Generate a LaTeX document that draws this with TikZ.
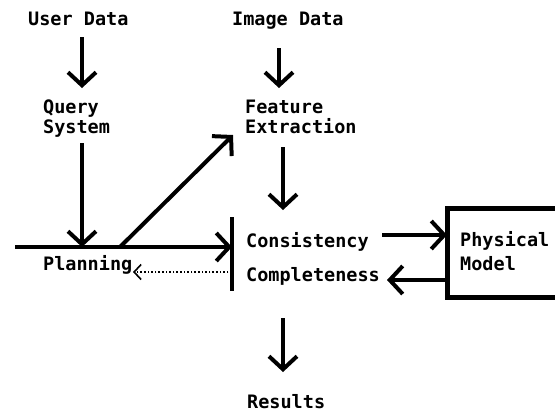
\documentclass[tikz,border=0pt]{standalone}
\usepackage{fontspec}
\setmainfont{DejaVu Sans Mono}
\usetikzlibrary{arrows.meta}
\begin{document}
\begin{tikzpicture}[x=1pt,y=-1pt,
  lbl/.style={anchor=base west,inner sep=0pt,font=\fontsize{18.5}{20}\selectfont\bfseries},
  conn/.style={line width=4pt,-{Straight Barb[length=13pt,width=28pt]}},
  plainline/.style={line width=4pt},
  dotconn/.style={line width=1.6pt,dotted,-{Straight Barb[length=7pt,width=15pt]}},
  modelbox/.style={line width=5pt}]
\useasboundingbox (0,0) rectangle (555,413);
% texts
\node[lbl] (user) at (28,25) {User Data};
\node[lbl] (image) at (232,25) {Image Data};
\node[lbl] (query) at (43,113) {Query};
\node[lbl] (system) at (43,133) {System};
\node[lbl] (feature) at (245,113) {Feature};
\node[lbl] (extraction) at (245,133) {Extraction};
\node[lbl] (consistency) at (246,247) {Consistency};
\node[lbl] (completeness) at (246,281) {Completeness};
\node[lbl] (planning) at (43,270) {Planning};
\node[lbl] (physical) at (460,246) {Physical};
\node[lbl] (model) at (460,270) {Model};
\node[lbl] (results) at (247,408) {Results};
% connector ends
\coordinate (u1) at (82,37);   \coordinate (u2) at (82,88);
\coordinate (i1) at (279,48);  \coordinate (i2) at (279,88);
\coordinate (q1) at (82,143);  \coordinate (q2) at (82,247);
\coordinate (h1) at (15,247);  \coordinate (h2) at (232,247);
\coordinate (b1) at (232,217); \coordinate (b2) at (232,291);
\coordinate (d1) at (120,247); \coordinate (d2) at (233,135);
\coordinate (f1) at (283,147); \coordinate (f2) at (283,210);
\coordinate (c1) at (382,235); \coordinate (c2) at (447,235);
\coordinate (m1) at (447,280); \coordinate (m2) at (387,280);
\coordinate (p1) at (232,272); \coordinate (p2) at (133,272);
\coordinate (r1) at (283,318); \coordinate (r2) at (283,372);
% box
\begin{scope}
\clip (0,0) rectangle (555,413);
\draw[modelbox] (447,208) rectangle (575,297);
\end{scope}
% connectors
\draw[conn] (u1) -- (u2);
\draw[conn] (i1) -- (i2);
\draw[conn] (q1) -- (q2);
\draw[conn] (h1) -- (h2);
\draw[plainline] (b1) -- (b2);
\draw[conn] (d1) -- (d2);
\draw[conn] (f1) -- (f2);
\draw[conn] (c1) -- (c2);
\draw[conn] (m1) -- (m2);
\draw[dotconn] (p1) -- (p2);
\draw[conn] (r1) -- (r2);
\end{tikzpicture}
\end{document}
